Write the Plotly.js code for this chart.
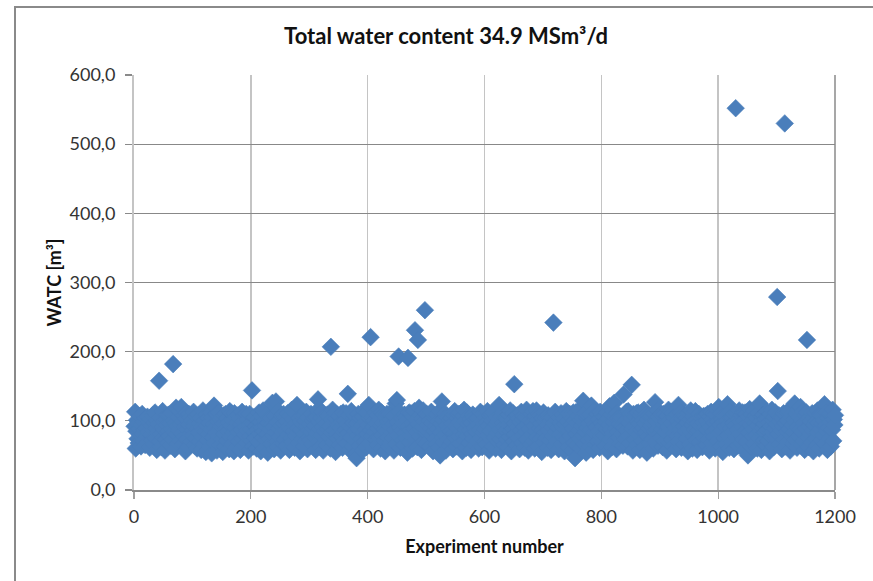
<!DOCTYPE html>
<html>
<head>
<meta charset="utf-8">
<script src="https://cdn.plot.ly/plotly-3.0.1.min.js"></script>
<style>
  html, body { margin: 0; padding: 0; background: #ffffff; overflow: hidden; }
  #frame { position: absolute; left: 14px; top: 6px; width: 1000px; height: 800px; border: 2px solid #8a8a8a; }
  #chart { position: absolute; left: 0; top: 0; width: 873px; height: 581px; }
</style>
</head>
<body>
<div id="frame"></div>
<div id="chart"></div>
<script>
// Chart text
const chartTitle = 'Total water content 34.9 MSm³/d';
const xTitle = 'Experiment number';
const yTitle = 'WATC [m³]';

// WATC [m³] per experiment, experiments 1-300
const watc0001 = [
  92,113,60,85,101,74,96,68,88,107,79,63,94,110,82,71,99,87,65,104,
  90,77,106,69,84,98,61,103,80,93,72,108,86,66,97,112,75,89,58,100,
  83,95,158,70,106,81,62,91,114,76,99,87,57,102,73,94,108,68,85,109,
  78,96,64,111,88,73,182,100,84,59,97,119,80,92,67,105,86,114,71,95,
  120,82,99,66,108,77,91,56,103,111,74,88,62,110,94,81,105,69,100,86,
  79,113,92,64,98,75,107,60,89,108,83,70,96,104,58,91,77,115,87,66,
  101,84,55,109,93,72,104,80,97,63,112,88,53,105,76,95,122,68,90,83,
  110,57,99,78,112,86,65,102,92,105,74,55,96,108,81,63,110,89,71,104,
  85,98,59,114,77,93,111,67,100,82,56,111,90,75,106,62,97,108,84,70,
  103,58,95,87,113,73,99,64,108,80,91,110,68,86,102,57,94,110,78,88,
  71,144,96,63,105,84,105,75,92,60,101,87,69,112,82,98,56,107,90,76,
  115,85,61,100,93,72,109,81,54,97,104,74,88,104,66,95,126,79,91,59,
  106,83,128,70,98,62,114,89,77,101,57,93,108,84,67,110,96,73,105,86,
  64,99,111,80,92,58,107,88,75,116,69,102,85,94,61,111,78,97,123,83,
  90,68,104,56,99,87,108,74,95,63,108,81,100,71,113,92,59,105,86,77
];
// experiments 301-600
const watc0301 = [
  95,72,110,84,66,101,89,104,76,93,58,106,82,115,131,70,98,87,62,104,
  79,113,91,57,100,85,108,73,96,64,109,88,107,77,92,60,207,102,83,116,
  69,97,86,111,55,103,80,109,74,94,65,107,90,110,78,99,61,112,84,71,
  100,87,111,67,95,139,82,108,58,92,76,114,89,63,104,97,108,72,85,53,
  46,96,79,110,88,64,101,104,74,93,57,106,83,115,70,98,87,62,112,81,
  94,123,68,103,221,86,77,105,91,59,100,84,111,73,96,65,108,89,116,75,
  102,60,93,112,80,97,109,71,88,56,105,85,110,76,99,63,110,92,68,101,
  83,108,74,95,57,107,87,125,66,130,98,79,193,113,90,61,104,86,104,72,
  96,65,109,82,105,75,100,54,191,92,112,69,87,111,78,97,60,106,89,114,
  231,73,101,84,62,217,95,119,77,108,88,58,103,91,115,70,99,260,83,67,
  110,86,94,107,72,100,63,89,113,79,97,56,105,85,108,74,92,66,108,87,
  99,61,114,50,83,95,128,76,102,69,90,111,80,57,106,93,105,73,88,64,
  101,85,104,70,96,59,109,82,114,75,92,63,104,89,110,77,98,67,111,84,
  93,56,107,80,116,72,100,88,61,112,78,95,107,68,86,103,58,97,81,109,
  74,105,90,65,102,84,104,71,94,60,106,87,113,76,99,62,110,83,96,70
];
// experiments 601-900
const watc0601 = [
  88,105,67,98,114,79,93,57,108,85,110,72,100,63,111,90,76,103,60,95,
  105,82,99,69,123,87,74,106,58,97,112,80,92,65,104,86,104,73,101,62,
  94,109,77,115,84,56,100,89,111,70,153,96,81,107,64,108,91,75,103,59,
  98,86,113,68,102,79,107,91,61,105,84,116,73,95,57,109,88,100,66,110,
  80,97,114,71,93,60,107,85,115,76,101,63,110,89,108,74,96,55,104,87,
  112,69,99,82,104,75,94,61,108,86,105,72,100,58,105,91,78,242,96,64,
  113,84,101,70,108,90,59,106,80,97,111,66,92,109,77,103,56,95,87,114,
  73,99,62,110,85,110,78,94,57,104,89,112,68,100,46,112,81,97,65,107,
  86,116,74,101,60,93,104,79,129,98,67,111,84,54,105,90,108,72,96,63,
  109,87,122,75,100,58,114,83,95,66,107,91,110,70,102,85,61,113,78,97,
  109,69,92,106,80,105,64,99,88,112,56,103,94,121,73,87,108,62,115,82,
  98,126,71,105,89,59,111,84,104,76,95,67,102,105,81,93,64,138,90,108,
  74,100,113,86,63,114,79,97,110,68,104,152,88,57,110,92,73,106,84,111,
  65,99,112,80,95,58,108,87,112,71,101,90,116,62,96,83,109,54,102,77,
  108,89,67,105,93,107,74,98,60,111,85,127,70,100,87,115,64,106,81,94
];
// experiments 901-1200
const watc0901 = [
  103,76,110,88,62,110,95,71,109,84,99,57,107,91,116,68,101,86,113,73,
  96,111,64,105,82,105,90,59,109,78,100,123,70,94,87,112,61,103,80,108,
  92,67,108,85,104,74,97,56,111,89,102,66,115,83,94,60,106,77,99,88,
  114,72,101,58,96,85,110,69,93,105,80,104,62,98,107,75,90,107,65,100,
  87,110,73,95,57,106,91,113,68,102,84,111,77,97,60,109,88,116,71,99,
  120,82,94,63,111,86,103,55,98,108,75,92,107,66,100,124,79,95,61,113,
  89,105,70,105,84,97,59,110,93,552,76,111,87,64,102,115,81,99,68,108,
  91,112,74,100,57,112,86,110,70,96,50,106,83,117,94,63,109,78,101,88,
  115,67,97,107,80,104,60,93,111,75,125,85,99,58,107,90,108,72,96,83,
  103,64,113,87,104,71,98,56,110,92,77,116,84,101,62,106,89,112,74,95,
  279,143,81,108,66,99,105,86,59,104,92,111,73,530,97,63,112,85,100,70,
  114,88,57,105,79,110,94,67,102,83,125,72,98,110,61,91,116,77,106,87,
  120,65,100,84,113,71,96,58,108,89,112,217,76,103,62,92,105,81,99,69,
  111,86,56,105,94,111,74,100,64,115,83,97,60,109,88,108,72,95,106,79,
  101,124,67,93,112,85,58,104,90,110,75,98,63,110,87,116,71,102,94,108
];

// Axis ticks
const xTickVals = [0, 200, 400, 600, 800, 1000, 1200];
const yTickVals = [0, 100, 200, 300, 400, 500, 600];

const watc = [].concat(watc0001, watc0301, watc0601, watc0901);

const trace = {
  type: 'scatter',
  mode: 'markers',
  y: watc,
  x0: 1,
  dx: 1,
  cliponaxis: false,
  marker: {
    symbol: 'diamond',
    size: 13.5,
    color: '#4a7ebb',
    line: { width: 0.6, color: '#4a7ebb' }
  },
  hoverinfo: 'x+y'
};

const tickFont = { family: 'Lato, "Open Sans", sans-serif', size: 18, color: '#333333' };
const boldFont = { family: 'Lato, "Open Sans", sans-serif', size: 18, color: '#111111', weight: 'bold' };

const layout = {
  width: 873,
  height: 581,
  margin: { l: 134, r: 38, t: 75, b: 91, pad: 0 },
  paper_bgcolor: 'rgba(0,0,0,0)',
  plot_bgcolor: 'rgba(0,0,0,0)',
  separators: ', ',
  showlegend: false,
  title: {
    text: chartTitle,
    font: { family: 'Lato, "Open Sans", sans-serif', size: 22, color: '#111111', weight: 'bold' },
    xref: 'container', x: 0.511, xanchor: 'center',
    yref: 'container', y: 1 - 36 / 581, yanchor: 'middle'
  },
  xaxis: {
    range: [0, 1200],
    tickmode: 'array',
    tickvals: xTickVals,
    ticktext: xTickVals.map(String),
    showgrid: true,
    gridcolor: '#c4c4c4',
    gridwidth: 1.5,
    zeroline: false,
    showline: true,
    linecolor: '#8a8a8a',
    linewidth: 1.5,
    ticks: 'outside',
    ticklen: 7,
    tickwidth: 1.2,
    tickcolor: '#a0a0a0',
    ticklabelstandoff: 3,
    tickfont: tickFont,
    layer: 'below traces',
    title: { text: xTitle, font: boldFont, standoff: 14 }
  },
  yaxis: {
    range: [0, 600],
    tickmode: 'array',
    tickvals: yTickVals,
    tickformat: '.1f',
    showgrid: true,
    gridcolor: '#888888',
    gridwidth: 1.3,
    zeroline: false,
    showline: true,
    linecolor: '#c4c4c4',
    linewidth: 2,
    ticks: 'outside',
    ticklen: 7,
    tickwidth: 1.2,
    tickcolor: '#8a8a8a',
    ticklabelstandoff: 6,
    tickfont: tickFont,
    layer: 'below traces',
    title: { text: yTitle, font: boldFont, standoff: 3 }
  },
  shapes: [
    { type: 'line', xref: 'paper', yref: 'paper', x0: 1, x1: 1, y0: 0, y1: 1,
      line: { color: '#8a8a8a', width: 1.5 }, layer: 'below' }
  ]
};

Plotly.newPlot('chart', [trace], layout, { staticPlot: true, displayModeBar: false });
</script>
</body>
</html>
